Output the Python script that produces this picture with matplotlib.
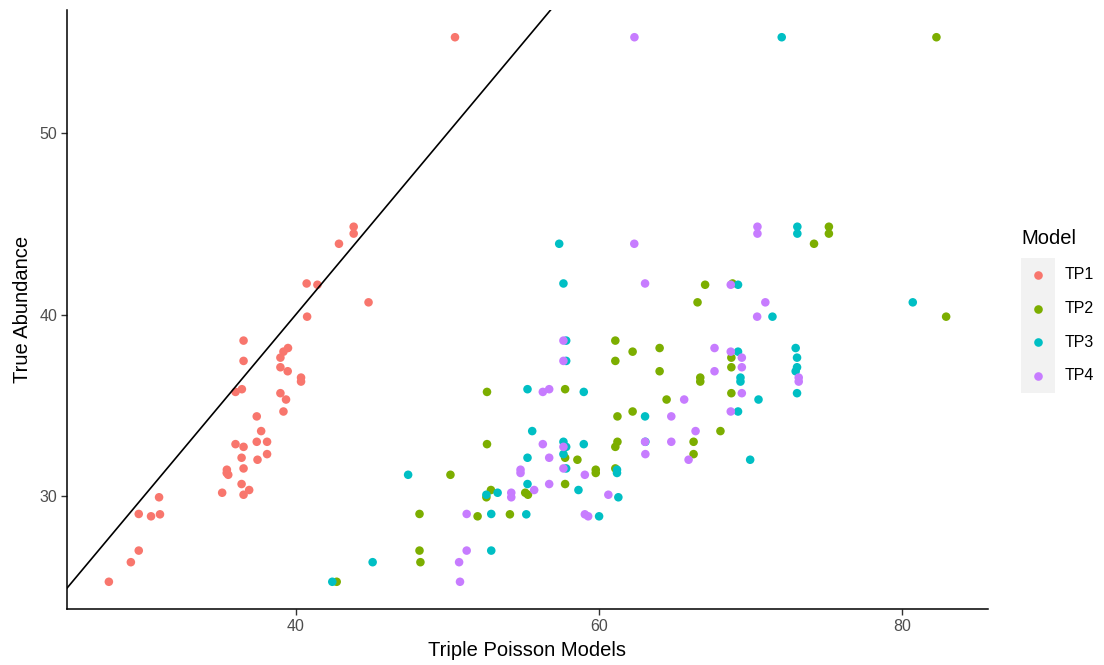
import matplotlib
matplotlib.use("Agg")
import matplotlib.pyplot as plt
from matplotlib.patches import Rectangle
from matplotlib.lines import Line2D

plt.rcParams['font.family'] = ['Liberation Sans', 'DejaVu Sans']

models = ["TP1", "TP2", "TP3", "TP4"]
colors = ["#F8766D", "#7CAE00", "#00BFC4", "#C77CFF"]

true_abundance = [25.27, 26.35, 26.99, 28.88, 29.01, 28.99, 29.93, 30.07, 30.18, 30.33,
                  30.66, 31.17, 31.27, 31.45, 31.52, 32.00, 32.11, 32.31, 32.71, 32.86,
                  32.99, 32.99, 33.58, 34.39, 34.66, 35.32, 35.67, 35.74, 35.89, 36.31,
                  36.53, 36.88, 37.10, 37.45, 37.63, 37.96, 38.16, 38.57, 39.89, 40.68,
                  41.65, 41.72, 43.91, 44.47, 44.85, 55.30]

tp1 = [27.68, 29.13, 29.65, 30.46, 29.65, 31.05, 30.99, 36.56, 35.15, 36.93,
       36.43, 35.55, 35.45, 35.46, 36.56, 37.48, 36.43, 38.11, 36.56, 36.03,
       37.43, 38.11, 37.72, 37.43, 39.19, 39.36, 38.99, 36.03, 36.45, 40.35,
       40.35, 39.47, 38.99, 36.56, 38.99, 39.19, 39.49, 36.56, 40.75, 44.80,
       41.43, 40.72, 42.85, 43.82, 43.82, 50.50]

tp2 = [42.70, 48.22, 48.16, 51.99, 48.16, 54.12, 52.57, 55.31, 55.13, 52.87,
       57.76, 50.20, 59.78, 59.78, 61.07, 58.57, 57.76, 66.23, 61.07, 52.61,
       61.21, 66.23, 68.00, 61.21, 62.21, 64.45, 68.72, 52.61, 57.76, 66.67,
       66.67, 63.99, 68.72, 61.07, 68.72, 62.21, 63.99, 61.07, 82.88, 66.49,
       66.99, 68.80, 74.17, 75.15, 75.15, 82.24]

tp3 = [42.41, 45.07, 52.89, 60.00, 52.89, 55.20, 61.27, 52.57, 53.31, 58.64,
       55.28, 47.41, 61.18, 61.18, 57.83, 69.96, 55.28, 57.65, 57.83, 58.99,
       57.65, 63.05, 55.59, 63.03, 69.16, 70.51, 73.05, 58.99, 55.28, 69.32,
       69.32, 72.96, 73.05, 57.83, 73.05, 69.16, 72.96, 57.83, 71.43, 80.68,
       69.16, 57.65, 57.37, 73.07, 73.07, 72.04]

tp4 = [50.83, 50.77, 51.27, 59.28, 51.27, 59.06, 54.21, 60.61, 54.21, 55.72,
       56.71, 59.06, 54.82, 54.82, 57.65, 65.90, 56.71, 63.05, 57.65, 56.29,
       63.03, 64.76, 66.36, 64.76, 68.68, 65.61, 69.41, 56.29, 56.71, 73.16,
       73.16, 67.61, 69.41, 57.65, 69.41, 68.68, 67.61, 57.65, 70.42, 70.96,
       68.68, 63.03, 62.32, 70.44, 70.44, 62.33]

predictions = [tp1, tp2, tp3, tp4]

W, H = 1104, 665
fig = plt.figure(figsize=(W / 100, H / 100), dpi=100)
ax = fig.add_axes([67 / W, 1 - 609 / H, (988 - 67) / W, (609 - 10) / H])

for name, col, xs in zip(models, colors, predictions):
    ax.scatter(xs, true_abundance, s=38, color=col, edgecolors='none', zorder=2, label=name)

ax.margins(0.05)
ax.autoscale_view()
xl = ax.get_xlim(); yl = ax.get_ylim()
ax.axline((30, 30), slope=1, color='black', lw=1.2, zorder=3)
ax.set_xlim(xl); ax.set_ylim(yl)

ax.set_xticks([40, 60, 80])
ax.set_yticks([30, 40, 50])
for s in ['top', 'right']:
    ax.spines[s].set_visible(False)
for s in ['left', 'bottom']:
    ax.spines[s].set_linewidth(1.1)
    ax.spines[s].set_color('black')
ax.tick_params(axis='both', length=4, width=1.0, color='#333333',
               labelcolor='#4D4D4D', labelsize=11.5, pad=3)

ax.set_xlabel("Triple Poisson Models", fontsize=14.5, color='black', labelpad=5)
ax.set_ylabel("True Abundance", fontsize=14.5, color='black', labelpad=5)

# Legend (ggplot-style)
fig.text(1021 / W, 1 - 239 / H, "Model", fontsize=14.5, ha='left', va='center')
key_top, key_h = 258, 33.7
fig.add_artist(Rectangle((1021 / W, 1 - (key_top + 4 * key_h) / H), 34 / W, 4 * key_h / H,
                         transform=fig.transFigure, facecolor='#F2F2F2', edgecolor='none'))
for i, (name, col) in enumerate(zip(models, colors)):
    cy = 1 - (key_top + key_h * (i + 0.5)) / H
    fig.add_artist(Line2D([1038 / W], [cy], transform=fig.transFigure, marker='o',
                          markersize=6.2, color=col, markeredgewidth=0, linestyle='none'))
    fig.text(1065 / W, cy, name, fontsize=11.5, ha='left', va='center', color='black')

fig.savefig("out.png", dpi=100)
